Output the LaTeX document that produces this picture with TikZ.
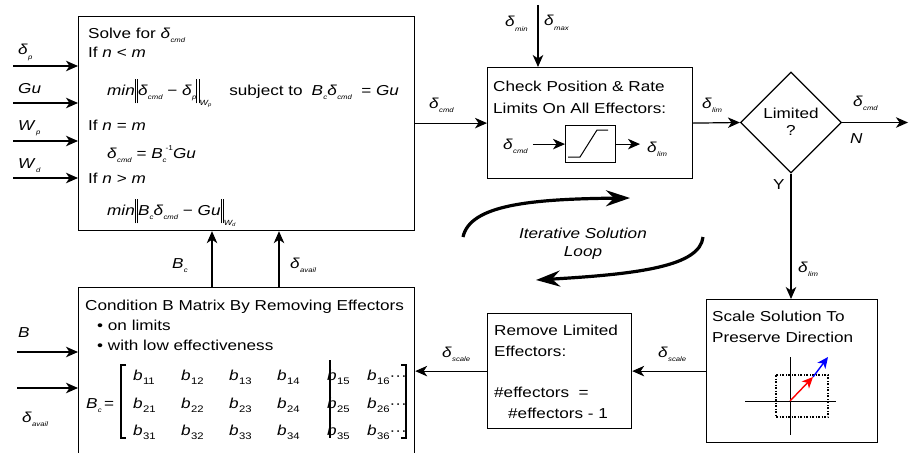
\documentclass[tikz,border=0pt]{standalone}
\usepackage{fontspec}
\setmainfont{Liberation Sans}[FakeStretch=1.19]
\usetikzlibrary{arrows.meta,shapes.geometric}
\newcommand\vsb[2]{\textit{#1}\kern0.3pt\raisebox{-0.55ex}{\fontsize{6.5}{7}\selectfont\itshape #2}}
\newcommand\dbars{\rule[-1.1ex]{0.9pt}{3.2ex}\kern1.4pt\rule[-1.1ex]{0.9pt}{3.2ex}}
\newcommand\normsub[2]{\raisebox{-1.4ex}{\fontsize{7.5}{8}\selectfont\itshape #1\raisebox{-0.3ex}{\fontsize{5}{5}\selectfont #2}}}
\newcommand\bent[1]{\textit{b}\kern0.3pt\raisebox{-0.6ex}{\fontsize{9.5}{9.5}\selectfont #1}}
\begin{document}
\begin{tikzpicture}[x=1pt,y=-1pt,
  every node/.style={font=\fontsize{14.4}{21}\selectfont},
  box/.style={draw, line width=1.2pt, anchor=north west, inner sep=0},
  txt/.style={anchor=base west, inner sep=0},
  ctxt/.style={anchor=base, inner sep=0},
  arr/.style={line width=1.2pt, -{Stealth[length=12pt,width=10.5pt,inset=3.5pt]}},
  big/.style={line width=3.2pt, -{Stealth[length=24pt,width=16pt,inset=8pt]}},
]
\path[use as bounding box] (0,0) rectangle (909,452);
\clip (0,0) rectangle (909,452);

% ---------- boxes ----------
\node[box, minimum width=336pt, minimum height=214pt] (solve) at (78,16) {};
\node[box, minimum width=336pt, minimum height=180pt] (cond) at (78,287) {};
\node[box, minimum width=205pt, minimum height=111pt] (check) at (487,67) {};
\node[draw, line width=1.2pt, diamond, minimum width=101pt, minimum height=101pt, inner sep=0] (lim) at (791,122.5) {};
\node[box, minimum width=171pt, minimum height=143pt] (scale) at (706,299) {};
\node[box, minimum width=144pt, minimum height=115pt] (remove) at (487,313) {};

% ---------- solve box text ----------
\node[txt] (s1) at (88,38) {Solve for \vsb{δ}{cmd}};
\node[txt] (s2) at (88,57) {If \textit{n} < \textit{m}};
\node[txt] (s3) at (107,95) {\textit{min}\dbars\vsb{δ}{cmd}\ − \vsb{δ}{p}\dbars\normsub{W}{p}\hspace{18pt}subject to\hspace{9pt}\vsb{B}{c}\vsb{δ}{cmd}\ \ = \textit{Gu}};
\node[txt] (s4) at (88,130) {If \textit{n} = \textit{m}};
\node[txt] (s5) at (107,158) {\vsb{δ}{cmd}\ = \textit{B}\raisebox{-0.55ex}{\fontsize{6.5}{7}\selectfont\itshape c}\kern-1pt\raisebox{1.0ex}{\fontsize{7}{7}\selectfont -1}\textit{Gu}};
\node[txt] (s6) at (88,183) {If \textit{n} > \textit{m}};
\node[txt] (s7) at (107,215) {\textit{min}\dbars\vsb{B}{c}\vsb{δ}{cmd}\ − \textit{Gu}\dbars\normsub{W}{d}};

% ---------- inputs to solve ----------
\node[txt] (lp) at (18,55) {\vsb{δ}{p}};
\node[txt] (lgu) at (18,93) {\textit{Gu}};
\node[txt] (lwp) at (18,130) {\vsb{W}{p}};
\node[txt] (lwd) at (18,168) {\vsb{W}{d}};
\coordinate (i1) at (13,66);
\coordinate (i2) at (13,103);
\coordinate (i3) at (13,141);
\coordinate (i4) at (13,178);
\foreach \c in {i1,i2,i3,i4} \draw[arr] (\c) -- (\c -| solve.west);

% ---------- check box ----------
\node[txt] (c1) at (493,91) {Check Position \& Rate};
\node[txt] (c2) at (493,113) {Limits On All Effectors:};
\node[box, minimum width=50pt, minimum height=37pt] (sat) at (565,125) {};
\draw[line width=1pt] (568,157) -- (580,157) -- (597,130) -- (608,130);
\node[txt] (cin) at (503,149) {\vsb{δ}{cmd}};
\node[txt] (cout) at (647,152) {\vsb{δ}{lim}};
\draw[arr] ([xshift=5pt]cin.east |- sat.west) -- (sat.west);
\draw[arr] (sat.east) -- ([xshift=-7pt]cout.west |- sat.east);

\node[txt] (dmin) at (505,27) {\vsb{δ}{min}};
\node[txt] (dmax) at (544,26) {\vsb{δ}{max}};
\coordinate (ctop) at (538,5);
\draw[arr] (ctop) -- (ctop |- check.north);

% solve -> check
\node[txt] (lcmd1) at (429,108) {\vsb{δ}{cmd}};
\draw[arr] (solve.east |- check.west) -- (check.west);

% check -> diamond
\node[txt] (llim1) at (702,108) {\vsb{δ}{lim}};
\draw[arr] (check.east) -- (lim.west);

% diamond
\node[ctxt] (dl1) at (791,118) {Limited};
\node[ctxt] (dl2) at (791,135) {?};
\coordinate (out) at (908,122.5);
\draw[arr] (lim.east) -- (out);
\node[txt] (lcmd2) at (853,106) {\vsb{δ}{cmd}};
\node[txt] (ln) at (850,143) {\textit{N}};
\node[txt] (ly) at (773,189) {Y};

% diamond -> scale
\draw[arr] (lim.south) -- (lim.south |- scale.north);
\node[txt] (llim2) at (798,272) {\vsb{δ}{lim}};

% ---------- scale box ----------
\node[txt] (sc1) at (712,321) {Scale Solution To};
\node[txt] (sc2) at (712,342) {Preserve Direction};
\draw[line width=1pt] (745,401) -- (836,401);
\draw[line width=1pt] (790,357) -- (790,435);
\draw[line width=1.1pt, dash pattern=on 2pt off 1.5pt on 1pt off 1.5pt] (776,375) rectangle (828,417);
\coordinate (vo) at (790,401);
\coordinate (vr) at (813,377);
\coordinate (vb) at (828,357);
\draw[red, line width=1.4pt, -{Stealth[length=11pt,width=10pt,inset=3pt]}] (vo) -- (vr);
\draw[blue, line width=1.4pt, -{Stealth[length=11pt,width=10pt,inset=3pt]}] (vr) -- (vb);

% scale -> remove
\draw[arr] (scale.west) -- (remove.east);
\node[txt] (lsc1) at (658,357) {\vsb{δ}{scale}};

% ---------- remove box ----------
\node[txt] (r1) at (494,335) {Remove Limited};
\node[txt] (r2) at (494,356) {Effectors:};
\node[txt] (r3) at (494,397) {\#effectors\ \ =};
\node[txt] (r4) at (508,418) {\#effectors - 1};

% remove -> cond
\draw[arr] (remove.west) -- (remove.west -| cond.east);
\node[txt] (lsc2) at (442,357) {\vsb{δ}{scale}};

% ---------- cond box ----------
\node[txt] (k1) at (85,310) {Condition B Matrix By Removing Effectors};
\node[txt] (k2) at (97,330) {• on limits};
\node[txt] (k3) at (97,350) {• with low effectiveness};
\node[txt] (kbc) at (86,408) {\vsb{B}{c}\,=};
\draw[line width=1.1pt] (126,365) -- (121,365) -- (121,438) -- (126,438);
\draw[line width=1.1pt] (401,365) -- (406,365) -- (406,438) -- (401,438);
\foreach \r/\yy in {1/380,2/408,3/435}{
  \node[txt] (m\r1) at (133,\yy) {\bent{\r1}};
  \node[txt] (m\r2) at (181,\yy) {\bent{\r2}};
  \node[txt] (m\r3) at (229,\yy) {\bent{\r3}};
  \node[txt] (m\r4) at (277,\yy) {\bent{\r4}};
  \node[txt] (m\r5) at (327,\yy) {\bent{\r5}};
  \node[txt] (m\r6) at (367,\yy) {\bent{\r6}···};
}
\draw[line width=1.1pt] (330,360) -- (330,438);

% cond -> solve
\coordinate (ub) at (212,287);
\coordinate (ua) at (279,287);
\draw[arr] (ub) -- (ub |- solve.south);
\draw[arr] (ua) -- (ua |- solve.south);
\node[txt] (lbc) at (172,268) {\vsb{B}{c}};
\node[txt] (lav) at (290,268) {\vsb{δ}{avail}};

% inputs to cond
\coordinate (j1) at (17,352);
\coordinate (j2) at (17,388);
\draw[arr] (j1) -- (j1 -| cond.west);
\draw[arr] (j2) -- (j2 -| cond.west);
\node[txt] (lb) at (18,337) {\textit{B}};
\node[txt] (lav2) at (22,422) {\vsb{δ}{avail}};

% ---------- iterative loop ----------
\node[anchor=center, inner sep=0, font=\fontsize{14.4}{21}\selectfont\itshape] (it1) at (583,233) {Iterative Solution};
\node[anchor=center, inner sep=0, font=\fontsize{14.4}{21}\selectfont\itshape] (it2) at (583,253) {Loop};
\coordinate (la) at (463,237);
\coordinate (lb2) at (630,198);
\coordinate (lc) at (703,237);
\coordinate (ld) at (536,280);
\draw[big] (la) .. controls (470,205) and (530,199) .. (lb2);
\draw[big] (lc) .. controls (700,266) and (640,274) .. (ld);
\end{tikzpicture}
\end{document}
